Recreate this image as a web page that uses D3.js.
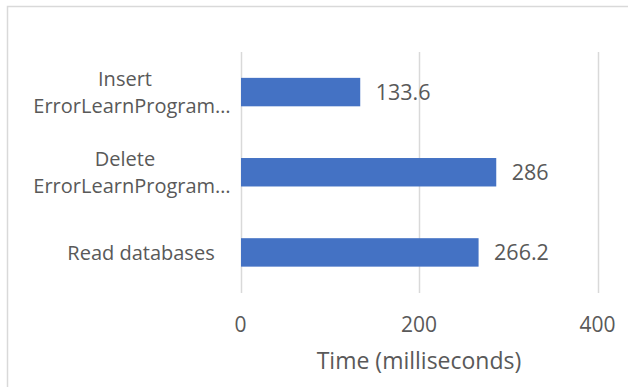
<!DOCTYPE html>
<html>
<head>
<meta charset="utf-8">
<script src="https://cdn.jsdelivr.net/npm/d3@7"></script>
<style>
  html, body { margin: 0; padding: 0; background: #fff; }
  svg { display: block; }
  text { font-family: "Open Sans", sans-serif; fill: #595959; }
</style>
</head>
<body>
<svg id="chart" width="628" height="387"></svg>
<script>
// Operation timings (ms)
const categories = [
  ["Insert", "ErrorLearnProgram…"],
  ["Delete", "ErrorLearnProgram…"],
  ["Read databases"]
];
const categoryKeys = ["insert", "delete", "read"];
const values = [133.6, 286, 266.2];
const xTicks = [0, 200, 400];
const axisTitle = "Time (milliseconds)";

const svg = d3.select("#chart");
const W = 628, H = 387;

// Chart frame
svg.append("path")
  .attr("d", `M7.5,${H} V6.5 H${W}`)
  .attr("fill", "none")
  .attr("stroke", "#d9d9d9")
  .attr("stroke-width", 1.5);

const x = d3.scaleLinear().domain([0, 400]).range([240.5, 597.5]);
const y = d3.scaleBand().domain(categoryKeys).range([52, 292.5]).paddingInner(0.645).paddingOuter(0.3225);

// Vertical gridlines
svg.append("g")
  .selectAll("line")
  .data(xTicks)
  .join("line")
  .attr("x1", d => Math.round(x(d)) + 0.5)
  .attr("x2", d => Math.round(x(d)) + 0.5)
  .attr("y1", 52)
  .attr("y2", 293)
  .attr("stroke", "#d9d9d9")
  .attr("stroke-width", 1.5);

// Bars
svg.append("g")
  .selectAll("rect")
  .data(values)
  .join("rect")
  .attr("x", x(0) + 0.5)
  .attr("y", (d, i) => y(categoryKeys[i]))
  .attr("width", d => x(d) - x(0))
  .attr("height", y.bandwidth())
  .attr("fill", "#4472c4");

// Value labels
svg.append("g")
  .selectAll("text")
  .data(values)
  .join("text")
  .attr("x", d => x(d) + 16)
  .attr("y", (d, i) => y(categoryKeys[i]) + y.bandwidth() / 2)
  .attr("dy", "0.36em")
  .attr("font-size", 21.5)
  .text(d => d);

// X tick labels
svg.append("g")
  .selectAll("text")
  .data(xTicks)
  .join("text")
  .attr("x", d => x(d))
  .attr("y", 331.5)
  .attr("text-anchor", "middle")
  .attr("font-size", 21)
  .text(d => d);

// Axis title
svg.append("text")
  .attr("x", (x(0) + x(400)) / 2)
  .attr("y", 369)
  .attr("text-anchor", "middle")
  .attr("font-size", 23)
  .text(axisTitle);

// Category labels to the left of the axis
const lineX = [125, 132];
const lineGap = 27;
const catG = svg.append("g");
categories.forEach((lines, i) => {
  const cy = y(categoryKeys[i]) + y.bandwidth() / 2;
  const t = catG.append("text")
    .attr("text-anchor", "middle")
    .attr("font-size", 20);
  const n = lines.length;
  lines.forEach((ln, j) => {
    t.append("tspan")
      .attr("x", n === 1 ? 141 : lineX[j])
      .attr("y", cy + (j - (n - 1) / 2) * lineGap)
      .attr("dy", "0.36em")
      .text(ln);
  });
});
</script>
</body>
</html>
